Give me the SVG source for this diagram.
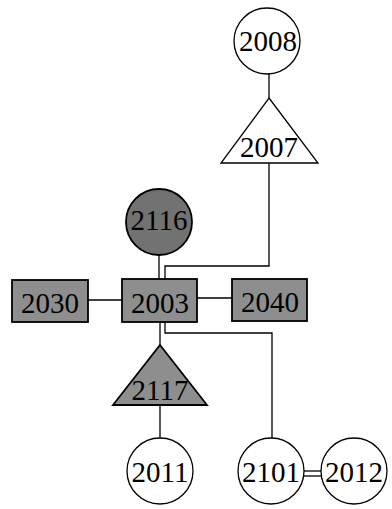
<svg xmlns="http://www.w3.org/2000/svg" width="392" height="509" viewBox="0 0 392 509">
<style>
.o{fill:#fff;stroke:#000;stroke-width:1.3}
.g{fill:#8e8e8e;stroke:#000;stroke-width:1.8}
.c{fill:none;stroke:#000;stroke-width:1.3}
text{font-family:"Liberation Serif","Times New Roman",serif;font-size:29px;text-anchor:middle;fill:#000}
</style>
<rect width="392" height="509" fill="#fff"/>
<g id="connectors">
<line class="c" x1="269" y1="74" x2="269" y2="98"/>
<polyline class="c" points="269,163 269,266 165,266 165,280"/>
<line class="c" x1="159" y1="255" x2="159" y2="280"/>
<line class="c" x1="88" y1="300" x2="122" y2="300"/>
<line class="c" x1="197" y1="298" x2="232" y2="298"/>
<line class="c" x1="160" y1="322" x2="160" y2="345"/>
<polyline class="c" points="165,322 165,333 272,333 272,438"/>
<line class="c" x1="160" y1="405" x2="160" y2="438"/>
<line class="c" x1="304" y1="471" x2="321" y2="471"/>
<line class="c" x1="304" y1="476" x2="321" y2="476"/>
</g>
<g id="n2008"><circle class="o" cx="267" cy="41" r="33"/><text x="268" y="51">2008</text></g>
<g id="n2007"><polygon class="o" points="269,98 318,163 221,163"/><text x="269" y="157">2007</text></g>
<g id="n2116"><circle class="g" cx="159" cy="222" r="33" style="fill:#727272"/><text x="159" y="230">2116</text></g>
<g id="n2030"><rect class="g" x="12" y="280" width="76" height="42"/><text x="50" y="313">2030</text></g>
<g id="n2003"><rect class="g" x="122" y="279" width="75" height="43"/><text x="160" y="313">2003</text></g>
<g id="n2040"><rect class="g" x="232" y="279" width="75" height="42"/><text x="270" y="312">2040</text></g>
<g id="n2117"><polygon class="g" points="160,345 207,405 113,405"/><text x="160" y="400">2117</text></g>
<g id="n2011"><circle class="o" cx="160" cy="471" r="33"/><text x="160" y="482">2011</text></g>
<g id="n2101"><circle class="o" cx="271" cy="471" r="33"/><text x="271" y="482">2101</text></g>
<g id="n2012"><circle class="o" cx="354" cy="471" r="33"/><text x="354" y="482">2012</text></g>
</svg>
